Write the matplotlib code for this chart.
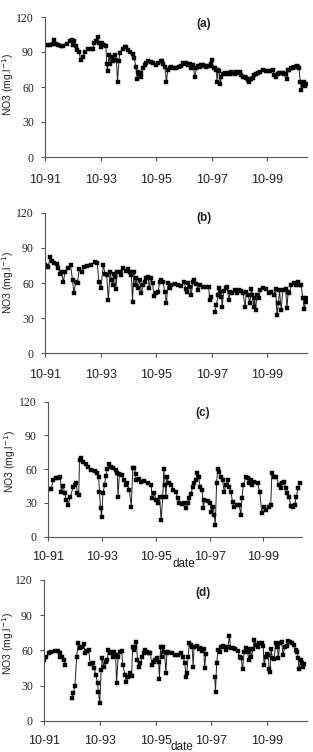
import numpy as np
import matplotlib
matplotlib.use("Agg")
import matplotlib.pyplot as plt

nan = float("nan")

# ---------------- data (decimal years, NO3 mg/l) ----------------
t_a = [1991.81, 1991.93, 1992.05, 1992.09, 1992.15, 1992.23, 1992.32, 1992.41, 1992.53, 1992.65,
       1992.71, 1992.74, 1992.79, 1992.86, 1992.91, 1992.98, 1993.03, 1993.10, 1993.19, 1993.31,
       1993.39, 1993.49, 1993.52, 1993.58, 1993.64, 1993.70, 1993.76, 1993.81, 1993.88, 1993.94,
       1993.97, 1994.00, 1994.05, 1994.09, 1994.15, 1994.21, 1994.26, 1994.32, 1994.36, 1994.41,
       1994.44, 1994.54, 1994.62, 1994.68, 1994.74, 1994.80, 1994.90, 1994.96, 1995.02, 1995.07,
       1995.10, 1995.14, 1995.19, 1995.22, 1995.26, 1995.34, 1995.40, 1995.46, 1995.55, 1995.64,
       1995.76, 1995.83, 1995.91, 1995.95, 1996.00, 1996.06, 1996.12, 1996.17, 1996.24, 1996.30,
       1996.38, 1996.48, 1996.58, 1996.66, 1996.72, 1996.78, 1996.84, 1996.90, 1996.96, 1997.02,
       1997.08, 1997.14, 1997.20, 1997.26, 1997.32, 1997.38, 1997.44, 1997.50, 1997.56, 1997.62,
       1997.68, 1997.73, 1997.76, 1997.82, 1997.87, 1997.92, 1997.94, 1997.98, 1998.01, 1998.06,
       1998.10, 1998.16, 1998.22, 1998.28, 1998.34, 1998.40, 1998.46, 1998.52, 1998.58, 1998.64,
       1998.70, 1998.76, 1998.82, 1998.88, 1998.94, 1999.00, 1999.04, 1999.09, 1999.14, 1999.18,
       1999.24, 1999.29, 1999.35, 1999.41, 1999.50, 1999.59, 1999.69, 1999.77, 1999.86, 1999.95,
       2000.01, 2000.07, 2000.12, 2000.17, 2000.24, 2000.31, 2000.37, 2000.43, 2000.46, 2000.49,
       2000.55, 2000.61, 2000.67, 2000.73, 2000.79, 2000.83, 2000.86, 2000.89, 2000.94, 2000.98,
       2001.03, 2001.08, 2001.12, 2001.16]
v_a = [96, 96, 97, 100.5, 97, 96, 95.5, 95, 97, 99,
       100.5, 96, 99, 95, 92, 90, 83, 85.5, 90, 92.5,
       92.5, 93, 98, 99, 103, 98, 94, 97.5, 96, 95,
       80, 74, 87.5, 80, 86, 82, 87.5, 83, 64.6, 82,
       89, 93, 94.5, 94, 92, 90, 88, 85, 77.5, 66.6,
       73, 71, 69, 72, 76.7, 79, 81, 82.4, 81.5, 80.4,
       79, 80.5, 82, 82.5, 80, 77.5, 64.6, 74.6, 76, 77.5,
       76.5, 76, 77, 78, 81, 80, 80.4, 79, 79.5, 76,
       79, 68.3, 76, 78, 77.5, 78.5, 79, 78, 77.5, 78,
       78, 80, 83, 76, 76, 75, 64.6, 75, 74, 63,
       68.3, 71, 72, 71, 72, 71, 72.5, 72.4, 71.5, 73,
       72, 73, 70.5, 68.3, 69, 67.5, 66, 64.6, 67, 66.6,
       68, 70, 71, 72.4, 73, 74.6, 73.5, 74, 73.5, 74.6,
       70, 68.3, 71, 71.8, 72, 72.4, 71.5, 71, 66.6, 74.6,
       75, 76, 76.5, 77.5, 77, 78, 77, 76, 64.6, 57.4,
       61.7, 64.6, 61, 62.6]

t_b = [1991.75, 1991.81, 1991.87, 1991.93, 1991.99, 1992.07, 1992.17, 1992.23, 1992.29, 1992.35,
       1992.41, 1992.47, 1992.59, 1992.67, 1992.74, 1992.79, 1992.86, 1992.92, 1992.98, 1993.07,
       1993.15, 1993.25, 1993.39, 1993.55, 1993.63, 1993.69, 1993.76, 1993.85, 1993.91, 1993.97,
       1994.03, 1994.09, 1994.15, 1994.18, 1994.23, 1994.26, 1994.30, 1994.35, 1994.44, 1994.50,
       1994.56, 1994.66, 1994.74, 1994.80, 1994.86, 1994.90, 1994.95, 1995.00, 1995.04, 1995.10,
       1995.16, 1995.22, 1995.28, 1995.34, 1995.40, 1995.46, 1995.50, 1995.55, 1995.62, 1995.67,
       1995.74, 1995.82, 1995.88, 1995.94, 1996.00, 1996.06, 1996.12, 1996.18, 1996.24, 1996.30,
       1996.42, 1996.54, 1996.66, 1996.76, 1996.82, 1996.86, 1996.91, 1996.96, 1997.01, 1997.08,
       1997.12, 1997.20, 1997.26, 1997.32, 1997.44, 1997.56, 1997.64, 1997.68, 1997.74, 1997.80,
       1997.86, 1997.92, 1997.98, 1998.01, 1998.06, 1998.10, 1998.13, 1998.18, 1998.25, 1998.30,
       1998.37, 1998.42, 1998.49, 1998.58, 1998.66, 1998.73, 1998.82, 1998.88, 1998.95, 1999.00,
       1999.06, 1999.12, 1999.18, 1999.21, 1999.26, 1999.29, 1999.33, 1999.38, 1999.45, 1999.50,
       1999.59, 1999.71, 1999.81, 1999.89, 1999.98, 2000.05, 2000.10, 2000.15, 2000.19, 2000.25,
       2000.31, 2000.41, 2000.46, 2000.50, 2000.55, 2000.61, 2000.70, 2000.79, 2000.85, 2000.91,
       2000.97, 2001.03, 2001.08, 2001.13, 2001.15]
v_b = [75.3, 74.5, 74, 82.5, 78.8, 76.8, 76, 72.5, 68, 69,
       61, 69, 72.5, 75.3, 62.6, 51.7, 61, 59.7, 72, 69,
       74, 74.8, 75.3, 77.6, 77.3, 61, 55.4, 75.3, 68, 66.8,
       45.5, 69, 62.6, 58.3, 68, 65.4, 54.9, 69, 69, 66.8,
       72.5, 70.2, 72, 69, 66.8, 44, 69.7, 58.3, 64, 55.4,
       62.6, 51.2, 58.3, 61, 64, 65.4, 55.4, 64, 59.7, 49.2,
       51.2, 52.6, 61, 62.6, 61, 52.6, 42.6, 59.7, 55.4, 58.3,
       58.9, 58.3, 57.7, 60.6, 54.9, 52.6, 59.7, 56.9, 49.8, 61,
       62.6, 58.9, 54, 58.3, 56.9, 56.9, 56.9, 45.5, 48.3, nan,
       35.5, 41.2, 49.8, 55.4, 52.6, 48.3, 39.8, 53.2, 55.4, 56.9,
       45.5, 52.6, 51.2, 54, 51.2, 54, 53.2, 51.2, 39.8, 52.6,
       49.8, 42.6, 54.9, 49.8, 39.8, 46.9, 37, 49.8, 46.9, 54,
       55.4, 54.9, 51.2, 52, 49.8, 54.9, 32.7, 42.6, 54, 37,
       54, 54.9, 38.4, 52.6, 51.2, 58.3, 59.7, 58.3, 61, 58.3,
       58.3, 46.9, 37.8, 44, 47.5]

t_c = [1991.75, 1991.87, 1991.94, 1992.03, 1992.12, 1992.21, 1992.24, 1992.31, 1992.37, 1992.43,
       1992.49, 1992.58, 1992.68, 1992.74, 1992.80, 1992.84, 1992.89, 1992.92, 1992.98, 1993.05,
       1993.15, 1993.23, 1993.35, 1993.48, 1993.56, 1993.63, 1993.66, 1993.70, 1993.74, 1993.79,
       1993.85, 1993.89, 1993.95, 1994.03, 1994.10, 1994.18, 1994.28, 1994.32, 1994.35, 1994.40,
       1994.50, 1994.56, 1994.63, 1994.69, 1994.77, 1994.84, 1994.90, 1994.96, 1995.00, 1995.02,
       1995.12, 1995.21, 1995.33, 1995.45, 1995.58, 1995.61, 1995.70, 1995.76, 1995.82, 1995.89,
       1995.95, 1996.01, 1996.05, 1996.10, 1996.13, 1996.16, 1996.23, 1996.32, 1996.40, 1996.50,
       1996.56, 1996.63, 1996.73, 1996.81, 1996.87, 1996.94, 1997.00, 1997.06, 1997.12, 1997.18,
       1997.24, 1997.28, 1997.34, 1997.40, 1997.47, 1997.52, 1997.56, 1997.68, 1997.76, 1997.82,
       1997.89, 1997.92, 1997.96, 1998.01, 1998.05, 1998.11, 1998.17, 1998.23, 1998.29, 1998.35,
       1998.42, 1998.48, 1998.54, 1998.60, 1998.66, 1998.75, 1998.85, 1998.91, 1998.95, 1999.00,
       1999.10, 1999.16, 1999.22, 1999.28, 1999.34, 1999.40, 1999.53, 1999.61, 1999.69, 1999.77,
       1999.86, 1999.94, 2000.02, 2000.06, 2000.15, 2000.23, 2000.33, 2000.39, 2000.45, 2000.52,
       2000.58, 2000.64, 2000.70, 2000.76, 2000.85, 2000.91, 2000.97, 2001.03, 2001.11]
v_c = [42, 42, 50.4, 51.9, 52.4, 53.3, 40, 45, 38.5, 32.6,
       28.1, 35.6, 43.9, 45.9, 47.4, 38.5, 37, 68.1, 69.6, 66.7,
       64.6, 62.2, 59.3, 58.4, 56.3, 53.3, 40, 25.2, 17.8, 38.5,
       45.9, 53.9, 59.9, 64.6, 62.2, 60.7, 59.3, 56.3, 35.6, 55.7,
       54.8, 50.4, 45.9, 47.4, 41.5, 26.7, 60.7, 60.7, 55.7, 50.4,
       51, 48.9, 49.8, 48, 45.9, 34, 38.5, 32.6, 29.6, 35.6,
       14.8, 35.6, 59.9, 45.9, 35.6, 53.3, 47.4, 45.9, 41.5, 40,
       34, 29.6, 29, 29.6, 25.2, 29.6, 34, 37.9, 44.4, 47.4,
       50.4, 56.3, 53.3, 44.4, 41.5, 25.2, 32.6, 32, 29.6, 22.2,
       26.7, 19.3, 10.4, 47.4, 59.9, 57.8, 53.3, 50.4, 40, 45.9,
       50.4, 44.4, 40, 31.1, 26.7, 28.1, 28.1, 19.3, 34, 45.9,
       53.3, 51.9, 47.4, 50.4, 45.9, 48.9, 47.4, 40, 20.7, 26.7,
       23.7, 26.7, 28.1, 56.3, 53.3, 52.7, 45.9, 43, 47.4, 48.9,
       43, 38.5, 35.6, 27.3, 26.7, 28.1, 35.6, 43, 47.4]

t_d = [1991.75, 1991.83, 1991.93, 1992.01, 1992.13, 1992.25, 1992.31, 1992.34, 1992.40, 1992.46,
       1992.51, 1992.62, 1992.74, 1992.80, 1992.86, 1992.92, 1992.98, 1993.04, 1993.11, 1993.17,
       1993.23, 1993.28, 1993.35, 1993.41, 1993.49, 1993.55, 1993.61, 1993.67, 1993.70, 1993.75,
       1993.80, 1993.84, 1993.90, 1993.96, 1994.02, 1994.06, 1994.11, 1994.18, 1994.22, 1994.27,
       1994.32, 1994.35, 1994.41, 1994.47, 1994.53, 1994.58, 1994.65, 1994.70, 1994.76, 1994.83,
       1994.89, 1994.93, 1994.97, 1995.03, 1995.06, 1995.10, 1995.15, 1995.21, 1995.26, 1995.32,
       1995.38, 1995.44, 1995.50, 1995.56, 1995.62, 1995.68, 1995.74, 1995.80, 1995.86, 1995.89,
       1995.93, 1995.97, 1996.02, 1996.07, 1996.12, 1996.16, 1996.21, 1996.33, 1996.45, 1996.57,
       1996.68, 1996.74, 1996.80, 1996.84, 1996.87, 1996.92, 1996.96, 1997.02, 1997.06, 1997.10,
       1997.13, 1997.22, 1997.30, 1997.36, 1997.42, 1997.48, 1997.51, 1997.55, 1997.70, 1997.87,
       1997.90, 1997.94, 1997.99, 1998.05, 1998.11, 1998.16, 1998.22, 1998.28, 1998.34, 1998.40,
       1998.44, 1998.52, 1998.60, 1998.70, 1998.76, 1998.82, 1998.87, 1998.93, 1998.99, 1999.05,
       1999.09, 1999.15, 1999.19, 1999.24, 1999.29, 1999.35, 1999.41, 1999.47, 1999.55, 1999.61,
       1999.64, 1999.70, 1999.74, 1999.79, 1999.82, 1999.86, 1999.89, 1999.94, 2000.00, 2000.06,
       2000.12, 2000.15, 2000.21, 2000.27, 2000.32, 2000.38, 2000.45, 2000.50, 2000.57, 2000.65,
       2000.71, 2000.77, 2000.83, 2000.86, 2000.90, 2000.95, 2000.99, 2001.04, 2001.09]
v_d = [51.7, 54.6, 57.4, 58.9, 59.7, 59.4, 57.4, 54, 54.6, 51.7,
       47.5, nan, 19, 23.3, 29.6, 54.6, 66.5, 61.7, 63.1, 65.4,
       57.4, 59.4, 60.3, 48.3, 48.9, 44.6, 39, 31.8, 24.7, 15.4,
       43.2, 53.2, 45.5, 50.3, 51.7, 60.3, 57.4, 58.9, 54.6, 58.9,
       56, 31.8, 54.6, 58.9, 59.7, 47.5, 39, 33.3, 37.5, 40.9,
       38.1, 63.1, 60.3, 62.6, 67.4, 51.7, 46.1, 48.9, 54.6, 57.4,
       60.3, 58.9, 57.4, 58, 47.5, 50.3, 51.7, 53.2, 50.3, 35.3,
       63.1, 54.6, 63.1, 58.9, 40.9, 57.4, 58.9, 57.4, 56, 56,
       57.4, 54.6, 48.9, 37.5, 40.9, 54.6, 66, 64.5, 62.6, 46.1,
       62.6, 63.7, 60.9, 61.7, 59.7, 60.9, 44.6, 56.9, nan, 37.5,
       24.7, 48.9, 60.3, 58.9, 62.6, 63.7, 63.1, 60.3, 62.6, 72.2,
       61.7, 61.7, 60.9, 59.7, 54.6, 53.2, 43.8, 58.9, 61.7, 58.9,
       51.7, 60.9, 54.6, 60.9, 68.8, 64.5, 63.1, 66.5, 66, 63.7,
       47.5, 54.6, 56.9, 56, 43.8, 41.8, 60.9, 53.2, 52.3, 66,
       63.1, 53.2, 66, 67.4, 56, 62.6, 63.7, 68.2, 67.4, 66,
       64.5, 60.3, 58.9, 53.2, 43.8, 51.7, 48.9, 46.1, 48.3]

panel_labels = ["(a)", "(b)", "(c)", "(d)"]
x_ticks = [1991.75, 1993.75, 1995.75, 1997.75, 1999.75]
x_ticklabels = ["10-91", "10-93", "10-95", "10-97", "10-99"]
y_ticks = [0, 30, 60, 90, 120]
ylabel = "NO3 (mg.l$^{-1}$)"

# ---------------- layout (pixels) ----------------
W, H = 313, 752
fig = plt.figure(figsize=(W / 100, H / 100), dpi=100)

# left, right, top, bottom in px
boxes = [(45, 307, 17, 157), (45, 307, 212.7, 353.3), (48, 302, 401.7, 536.7), (44, 307, 580, 720.7)]
xpads = [9.0, 8.5, 7.0, 7.5]
label_pos = [(204, 24), (204, 218), (203, 413), (203, 593)]
ylab_pos = [(8, 84), (8, 282), (10, 461), (8, 643)]
series = [(t_a, v_a), (t_b, v_b), (t_c, v_c), (t_d, v_d)]

spine_col = "#555555"
for i, ((l, r, t, b), (tt, vv)) in enumerate(zip(boxes, series)):
    ax = fig.add_axes([l / W, 1 - b / H, (r - l) / W, (b - t) / H])
    ax.plot(tt, vv, color="#222222", lw=0.7, marker="s", ms=2.3,
            mfc="black", mec="black", mew=0.3)
    ax.set_xlim(1991.75, 2001.18)
    ax.set_ylim(0, 120)
    ax.set_xticks(x_ticks)
    ax.set_xticklabels(x_ticklabels, family="Liberation Sans", fontsize=9)
    ax.set_yticks(y_ticks)
    ax.set_yticklabels([str(v) for v in y_ticks], family="Liberation Serif", fontsize=8.5)
    for s in ["top", "right"]:
        ax.spines[s].set_visible(False)
    for s in ["left", "bottom"]:
        ax.spines[s].set_color(spine_col)
        ax.spines[s].set_linewidth(0.8)
    ax.tick_params(axis="x", direction="out", length=3, width=0.8, color=spine_col,
                   pad=xpads[i], labelcolor="#222222")
    ax.tick_params(axis="y", direction="out", length=3, width=0.8, color=spine_col,
                   pad=5, labelcolor="#222222")
    ax.patch.set_alpha(0)
    lx, ly = label_pos[i]
    fig.text(lx / W, 1 - ly / H, panel_labels[i], ha="center", va="center",
             family="Liberation Sans", fontweight="bold", fontsize=8.5, color="#222222")
    yx, yy = ylab_pos[i]
    fig.text(yx / W, 1 - yy / H, ylabel, ha="center", va="center", rotation=90,
             family="Liberation Sans", fontsize=7.5, color="#222222")

fig.text(184 / W, 1 - 564 / H, "date", ha="center", va="center",
         family="Liberation Sans", fontsize=8.5, color="#222222")
fig.text(182 / W, 1 - 747 / H, "date", ha="center", va="center",
         family="Liberation Sans", fontsize=8.5, color="#222222")

fig.savefig("out.png", dpi=100)
